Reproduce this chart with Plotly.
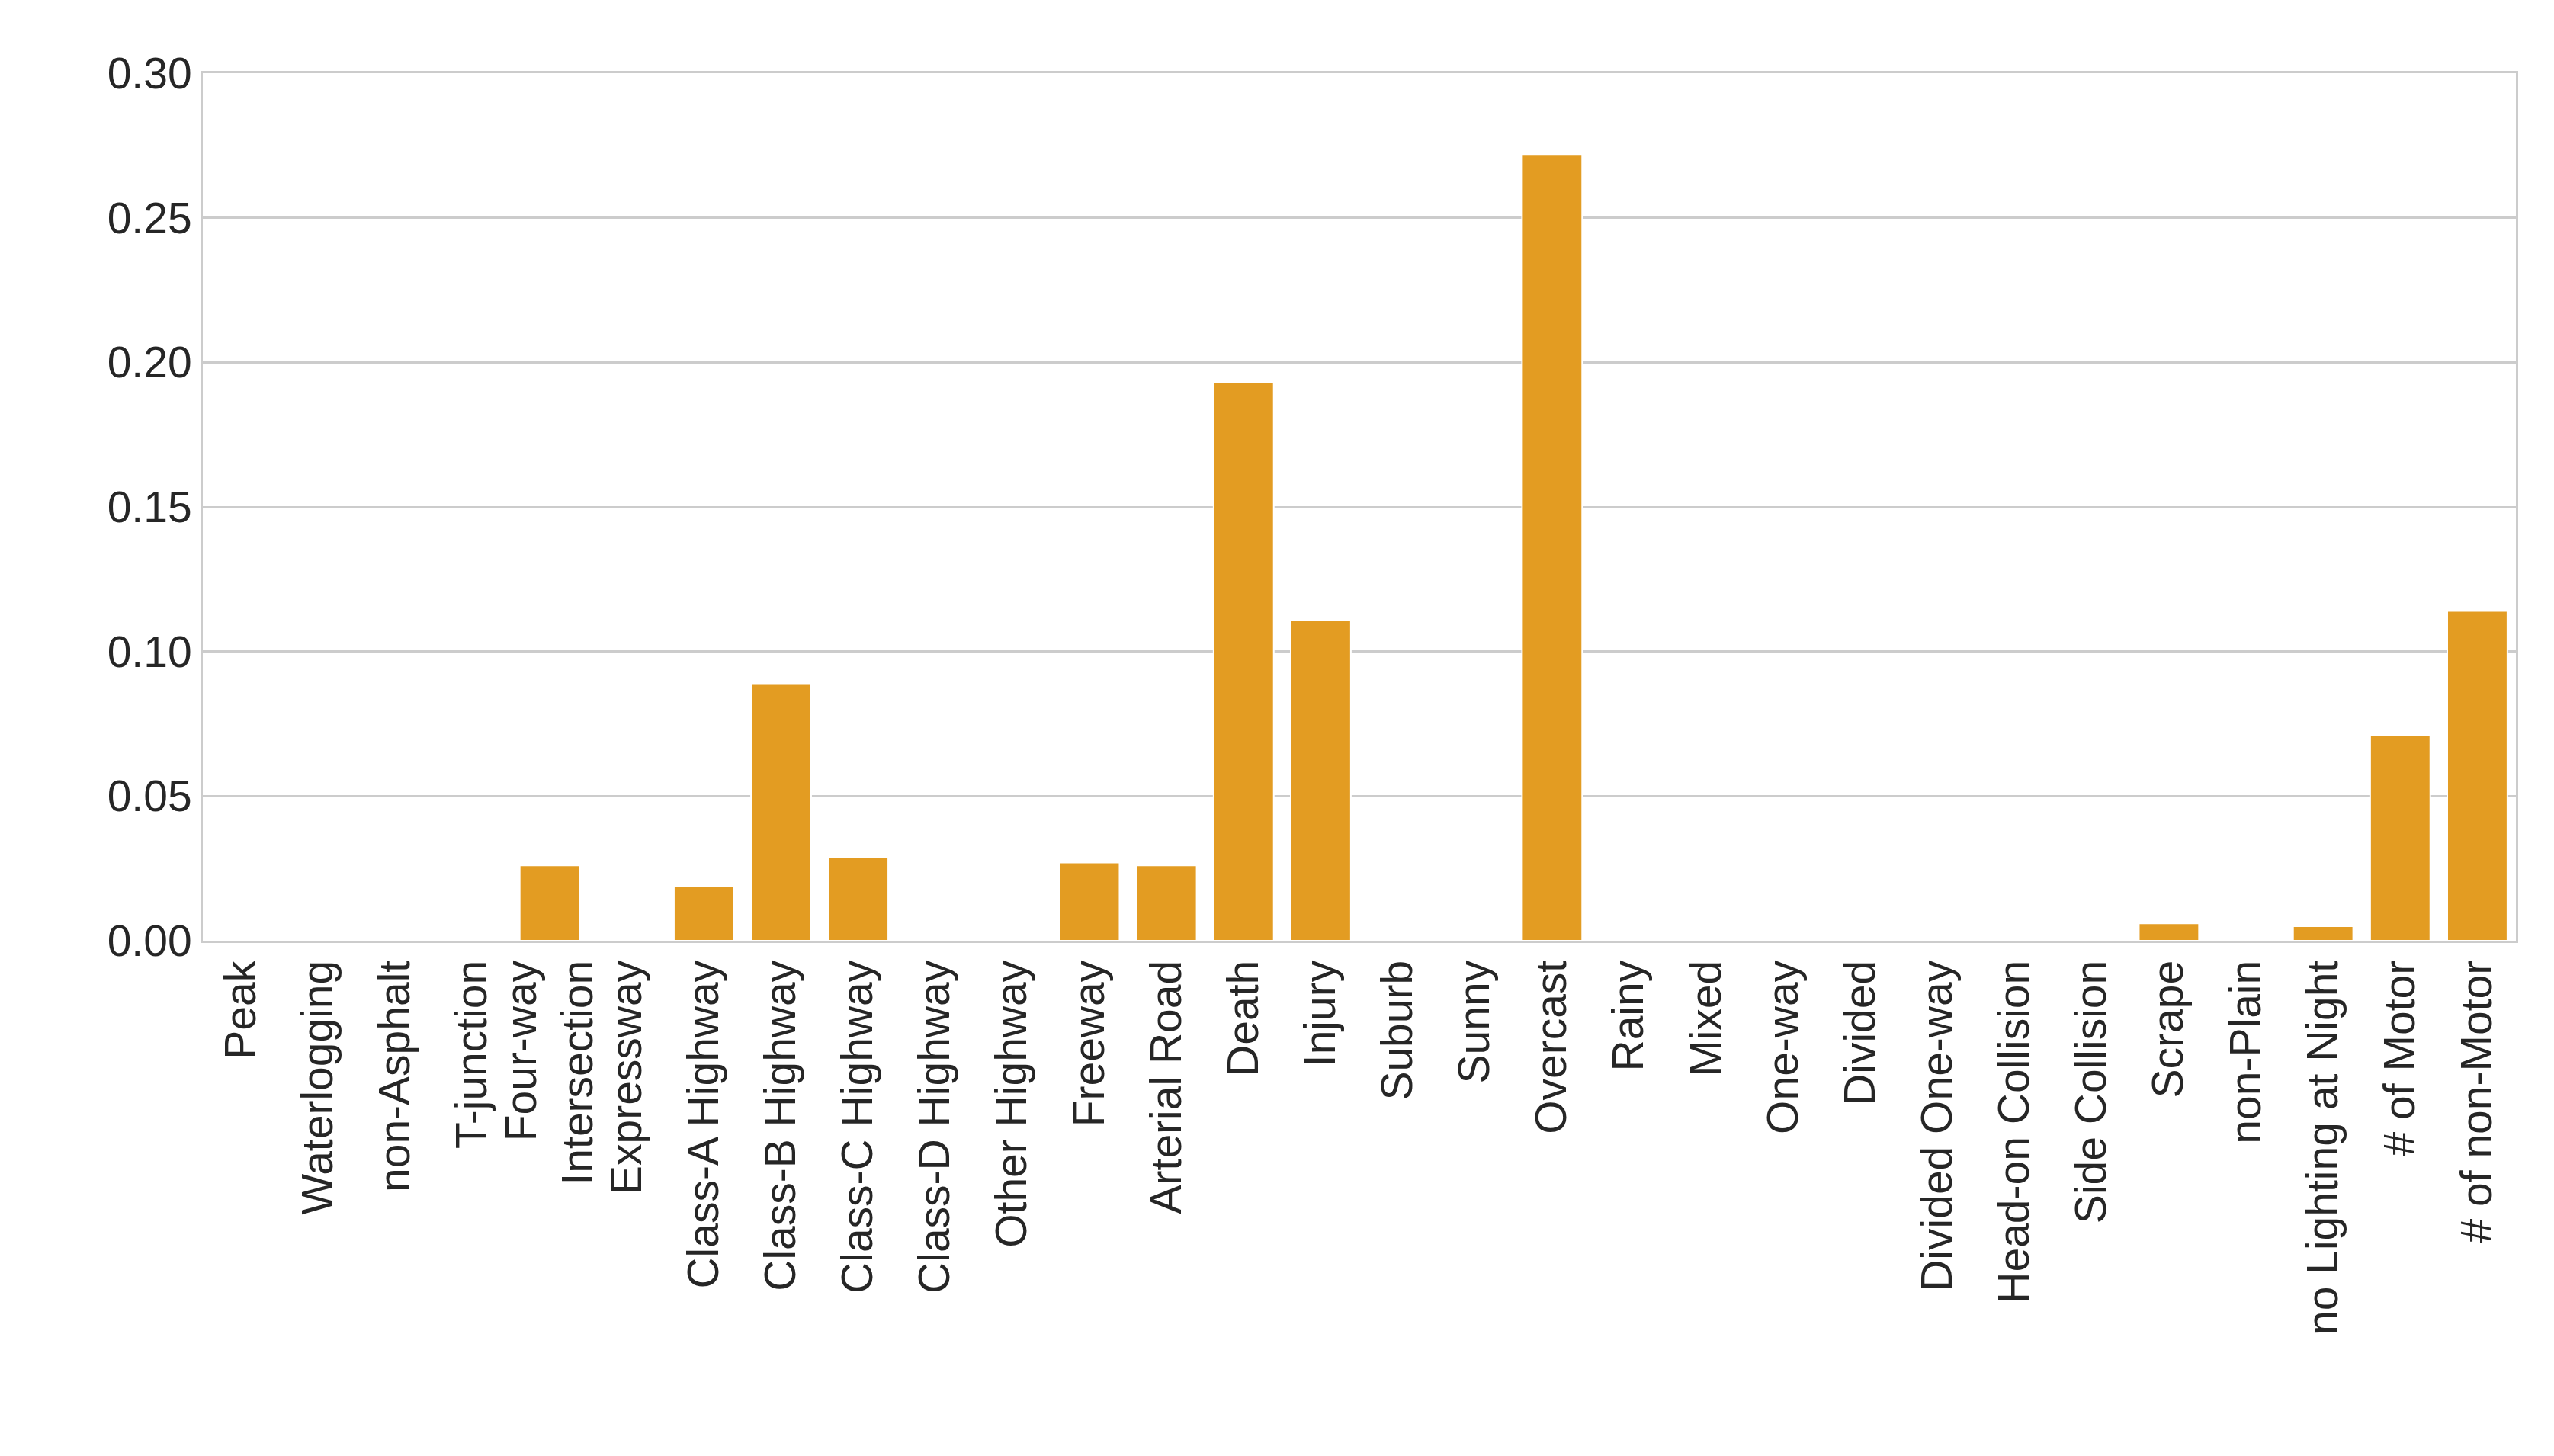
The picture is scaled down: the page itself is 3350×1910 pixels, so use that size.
import plotly.graph_objects as go

categories = ["Peak", "Waterlogging", "non-Asphalt", "T-junction", "Four-way<br>Intersection",
              "Expressway", "Class-A Highway", "Class-B Highway", "Class-C Highway", "Class-D Highway",
              "Other Highway", "Freeway", "Arterial Road", "Death", "Injury", "Suburb", "Sunny",
              "Overcast", "Rainy", "Mixed", "One-way", "Divided", "Divided One-way",
              "Head-on Collision", "Side Collision", "Scrape", "non-Plain", "no Lighting at Night",
              "# of Motor", "# of non-Motor"]
values = [0, 0, 0, 0, 0.026, 0, 0.019, 0.089, 0.029, 0, 0, 0.027, 0.026, 0.193, 0.111, 0, 0,
          0.272, 0, 0, 0, 0, 0, 0, 0, 0.006, 0, 0.005, 0.071, 0.114]
y_ticks = [0, 0.05, 0.10, 0.15, 0.20, 0.25, 0.30]

fig = go.Figure(go.Bar(x=categories, y=values, marker_color="#E39C22",
                       marker_line=dict(color="white", width=2)))
fig.update_layout(
    width=3350, height=1910, plot_bgcolor="white", paper_bgcolor="white",
    margin=dict(l=258, r=58, t=88, b=684), bargap=0.22, showlegend=False,
    font=dict(family="Liberation Sans, Arial", size=57, color="#262626"),
)
fig.update_xaxes(tickangle=-90, showline=True, mirror=True, linecolor="#cccccc", linewidth=3,
                 ticks="", tickfont=dict(size=57))
fig.update_yaxes(range=[0, 0.30], tickvals=y_ticks, ticktext=[f"{v:.2f}" for v in y_ticks],
                 showgrid=True, gridcolor="#cccccc", gridwidth=3, showline=True, mirror=True,
                 linecolor="#cccccc", linewidth=3, zeroline=False, tickfont=dict(size=57),
                 ticks="", ticklen=0)
fig.write_html("out.html")
